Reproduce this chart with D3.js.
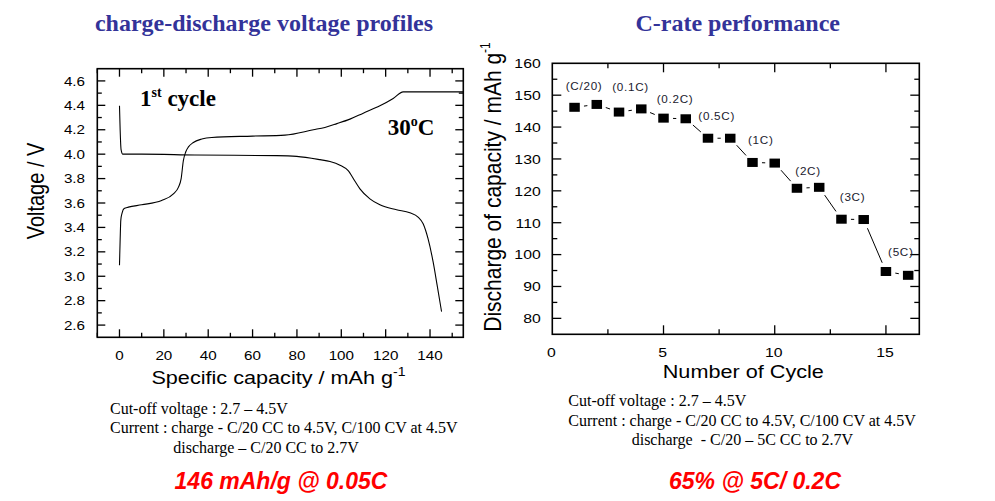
<!DOCTYPE html>
<html><head><meta charset="utf-8">
<script src="https://cdn.jsdelivr.net/npm/d3@7"></script>
<style>
html,body{margin:0;padding:0;background:#fff;}
svg{display:block;}
text{white-space:pre;}
</style></head>
<body>
<svg id="chart" width="995" height="501"></svg>
<script>
// ---------------- data ----------------
// Left: 1st cycle charge / discharge profiles (capacity mAh/g, voltage V)
const chargeCapacity = [0, 0.3, 0.6, 1.2, 2.1, 4, 10, 19, 24.3, 26.6, 27.8, 28.8, 29.9, 31.1, 33.3, 37.1, 41.6, 60, 74.6, 87.4, 92.6, 98, 103.9, 109.9, 117.4, 123.4, 127.9, 155];
const chargeVoltage  = [3.09, 3.30, 3.46, 3.52, 3.555, 3.566, 3.585, 3.62, 3.675, 3.73, 3.80, 3.947, 4.02, 4.06, 4.096, 4.124, 4.137, 4.148, 4.156, 4.20, 4.219, 4.25, 4.287, 4.336, 4.396, 4.456, 4.51, 4.51];
const dischargeCapacity = [0, 0.3, 0.7, 1.5, 10, 34, 70.9, 79.9, 90.4, 94.9, 99.4, 103.1, 106.1, 108.4, 112.9, 117.4, 124.9, 130.9, 134.6, 136.9, 139.1, 141.4, 143.2, 145.2];
const dischargeVoltage  = [4.396, 4.20, 4.04, 4.0, 4.0, 3.993, 3.988, 3.982, 3.955, 3.94, 3.91, 3.865, 3.78, 3.716, 3.634, 3.585, 3.545, 3.52, 3.485, 3.43, 3.308, 3.117, 2.927, 2.71];

// Right: C-rate performance
const cycleNumber = [1, 2, 3, 4, 5, 6, 7, 8, 9, 10, 11, 12, 13, 14, 15, 16];
const cycleCapacity = [146.2, 147.1, 144.7, 145.7, 142.8, 142.6, 136.5, 136.5, 128.9, 128.7, 120.8, 121.1, 111.1, 111.0, 94.7, 93.5];
const rateLabels = ["(C/20)", "(0.1C)", "(0.2C)", "(0.5C)", "(1C)", "(2C)", "(3C)", "(5C)"];
const rateLabelCycle = [1.43, 3.52, 5.52, 7.39, 9.37, 11.5, 13.5, 15.67];
const rateLabelCapacity = [152.8, 152.3, 148.8, 143.2, 135.9, 126.0, 118.0, 100.7];

// ticks
const leftXMajor = [0, 20, 40, 60, 80, 100, 120, 140];
const leftXMinor = [-10, 10, 30, 50, 70, 90, 110, 130, 150];
const leftYMajor = [2.6, 2.8, 3.0, 3.2, 3.4, 3.6, 3.8, 4.0, 4.2, 4.4, 4.6];
const leftYMinor = [2.5, 2.7, 2.9, 3.1, 3.3, 3.5, 3.7, 3.9, 4.1, 4.3, 4.5, 4.7];
const rightXMajor = [0, 5, 10, 15];
const rightXMinor = [2.5, 7.5, 12.5];
const rightYMajor = [80, 90, 100, 110, 120, 130, 140, 150, 160];
const rightYMinor = [75, 85, 95, 105, 115, 125, 135, 145, 155];

// text
const leftTitle = "charge-discharge voltage profiles";
const rightTitle = "C-rate performance";
const leftNotes = ["Cut-off voltage : 2.7 \u2013 4.5V", "Current : charge - C/20 CC to 4.5V, C/100 CV at 4.5V", "discharge \u2013 C/20 CC to 2.7V"];
const rightNotes = ["Cut-off voltage : 2.7 \u2013 4.5V", "Current : charge - C/20 CC to 4.5V, C/100 CV at 4.5V", "discharge  - C/20 \u2013 5C CC to 2.7V"];
const leftHighlight = "146 mAh/g @ 0.05C";
const rightHighlight = "65% @ 5C/ 0.2C";

// ---------------- drawing ----------------
const svg = d3.select("#chart");
const K = 1.17; // horizontal stretch of chart text
const SANS = "'Liberation Sans', Arial, sans-serif";
const SERIF = "'Liberation Serif', 'Times New Roman', serif";

function txt(g, x, y, str, o = {}) {
  const t = g.append("text")
    .attr("transform", `translate(${x},${y}) scale(${o.k || 1},1)` + (o.rot ? " rotate(-90)" : ""))
    .attr("text-anchor", o.anchor || "start")
    .attr("font-family", o.family || SANS)
    .attr("font-size", o.size || 13)
    .attr("font-weight", o.weight || "normal")
    .attr("font-style", o.style || "normal")
    .attr("fill", o.fill || "#000");
  if (o.ls) t.attr("letter-spacing", o.ls);
  if (str !== null) t.text(str);
  return t;
}

function frame(g, x, y, clipId) {
  const [x0, x1] = x.range(), [y0, y1] = y.range();
  g.append("clipPath").attr("id", clipId).append("rect")
    .attr("x", x0).attr("y", y1).attr("width", x1 - x0).attr("height", y0 - y1);
  g.append("rect").attr("x", x0).attr("y", y1).attr("width", x1 - x0).attr("height", y0 - y1)
    .attr("fill", "none").attr("stroke", "#000").attr("stroke-width", 1.6);
}

function ticks(g, x, y, xMaj, xMin, yMaj, yMin, lenMaj, lenMin) {
  const [x0, x1] = x.range(), [yb, yt] = y.range();
  const tg = g.append("g").attr("stroke", "#000").attr("stroke-width", 1.3);
  const vx = (vals, len) => vals.forEach(v => {
    tg.append("line").attr("x1", x(v)).attr("x2", x(v)).attr("y1", yb).attr("y2", yb - len);
    tg.append("line").attr("x1", x(v)).attr("x2", x(v)).attr("y1", yt).attr("y2", yt + len);
  });
  const vy = (vals, len) => vals.forEach(v => {
    tg.append("line").attr("y1", y(v)).attr("y2", y(v)).attr("x1", x0).attr("x2", x0 + len);
    tg.append("line").attr("y1", y(v)).attr("y2", y(v)).attr("x1", x1).attr("x2", x1 - len);
  });
  vx(xMaj.filter(v => v > x.domain()[0] && v < x.domain()[1]), lenMaj);
  vx(xMin, lenMin);
  vy(yMaj.filter(v => v > y.domain()[0] && v < y.domain()[1]), lenMaj);
  vy(yMin.filter(v => v > y.domain()[0] && v < y.domain()[1]), lenMin);
}

// ---------- Left chart ----------
const gL = svg.append("g");
const xL = d3.scaleLinear().domain([-10, 155]).range([97.3, 463.3]);
const yL = d3.scaleLinear().domain([2.5, 4.7]).range([337.3, 68.7]);

txt(gL, 264, 30.5, leftTitle, { family: SERIF, size: 24, weight: "bold", fill: "#333399", anchor: "middle" });

frame(gL, xL, yL, "clipL");
ticks(gL, xL, yL, leftXMajor, leftXMinor, leftYMajor, leftYMinor, 8, 4.5);

leftXMajor.forEach(v => txt(gL, xL(v), 359.5, String(v), { size: 13, anchor: "middle", k: K }));
leftYMajor.forEach(v => txt(gL, 85, yL(v) + 4.6, d3.format(".1f")(v), { size: 13, anchor: "end", k: K }));

const lineL = d3.line().x(d => xL(d[0])).y(d => yL(d[1])).curve(d3.curveMonotoneX);
const plotL = gL.append("g").attr("clip-path", "url(#clipL)");
plotL.append("path").datum(d3.zip(chargeCapacity, chargeVoltage)).attr("d", lineL)
  .attr("fill", "none").attr("stroke", "#000").attr("stroke-width", 1.1);
plotL.append("path").datum(d3.zip(dischargeCapacity, dischargeVoltage)).attr("d", lineL)
  .attr("fill", "none").attr("stroke", "#000").attr("stroke-width", 1.1);

// axis titles
const xtL = txt(gL, 278.5, 384, null, { size: 18.5, anchor: "middle", k: K });
xtL.append("tspan").text("Specific capacity / mAh g");
xtL.append("tspan").attr("font-size", 12).attr("dy", -8).text("-1");
txt(gL, 43.5, 191, "Voltage / V", { size: 20, anchor: "middle", k: K, rot: true });

// in-plot labels
const c1 = txt(gL, 140, 106, null, { family: SERIF, size: 23, weight: "bold" });
c1.append("tspan").text("1");
c1.append("tspan").attr("font-size", 14).attr("dy", -9).text("st");
c1.append("tspan").attr("dy", 9).text(" cycle");
const c2 = txt(gL, 387.7, 135, null, { family: SERIF, size: 23, weight: "bold" });
c2.append("tspan").text("30");
c2.append("tspan").attr("font-size", 14).attr("dy", -9).text("o");
c2.append("tspan").attr("dy", 9).text("C");

// notes
txt(gL, 110, 413.5, leftNotes[0], { family: SERIF, size: 16 });
txt(gL, 110, 433, leftNotes[1], { family: SERIF, size: 16 });
txt(gL, 173.3, 452.5, leftNotes[2], { family: SERIF, size: 16 });
txt(gL, 281, 488.5, leftHighlight, { size: 23, weight: "bold", style: "italic", fill: "#ff0000", anchor: "middle" });

// ---------- Right chart ----------
const gR = svg.append("g");
const xR = d3.scaleLinear().domain([0, 16.5]).range([552.3, 919.3]);
const yR = d3.scaleLinear().domain([75, 160]).range([334.3, 63.3]);

txt(gR, 737.7, 31, rightTitle, { family: SERIF, size: 24, weight: "bold", fill: "#333399", anchor: "middle" });

frame(gR, xR, yR, "clipR");
ticks(gR, xR, yR, rightXMajor, rightXMinor, rightYMajor, rightYMinor, 9, 5);

rightXMajor.forEach(v => txt(gR, xR(v) - 1, 356.5, String(v), { size: 13.5, anchor: "middle", k: K }));
rightYMajor.forEach(v => txt(gR, 540.7, yR(v) + 4.8, String(v), { size: 13.5, anchor: "end", k: K }));

// connecting segments with gaps around markers
const pts = cycleNumber.map((c, i) => [xR(c), yR(cycleCapacity[i])]);
const gap = 9.5;
const segG = gR.append("g").attr("stroke", "#000").attr("stroke-width", 1);
for (let i = 0; i < pts.length - 1; i++) {
  const [ax, ay] = pts[i], [bx, by] = pts[i + 1];
  const d = Math.hypot(bx - ax, by - ay);
  if (d <= 2 * gap) continue;
  const ux = (bx - ax) / d, uy = (by - ay) / d;
  segG.append("line")
    .attr("x1", ax + ux * gap).attr("y1", ay + uy * gap)
    .attr("x2", bx - ux * gap).attr("y2", by - uy * gap);
}
gR.append("g").selectAll("rect").data(pts).join("rect")
  .attr("x", d => d[0] - 5.25).attr("y", d => d[1] - 4.5)
  .attr("width", 10.5).attr("height", 9).attr("fill", "#000");

rateLabels.forEach((s, i) =>
  txt(gR, xR(rateLabelCycle[i]), yR(rateLabelCapacity[i]) + 3.5, s, { size: 10, anchor: "middle", k: K, ls: 0.6, fill: "#1a1a2e" }));

// axis titles
txt(gR, 743.3, 378.3, "Number of Cycle", { size: 18.5, anchor: "middle", k: K });
const ytR = txt(gR, 501, 187, null, { size: 21, anchor: "middle", k: K, rot: true });
ytR.append("tspan").text("Discharge of capacity / mAh g");
ytR.append("tspan").attr("font-size", 12).attr("dy", -9).text("-1");

// notes
txt(gR, 568.3, 406, rightNotes[0], { family: SERIF, size: 16 });
txt(gR, 568.3, 426, rightNotes[1], { family: SERIF, size: 16 });
txt(gR, 631.7, 444.5, rightNotes[2], { family: SERIF, size: 16 });
txt(gR, 755, 488.5, rightHighlight, { size: 23, weight: "bold", style: "italic", fill: "#ff0000", anchor: "middle" });
</script>
</body></html>
